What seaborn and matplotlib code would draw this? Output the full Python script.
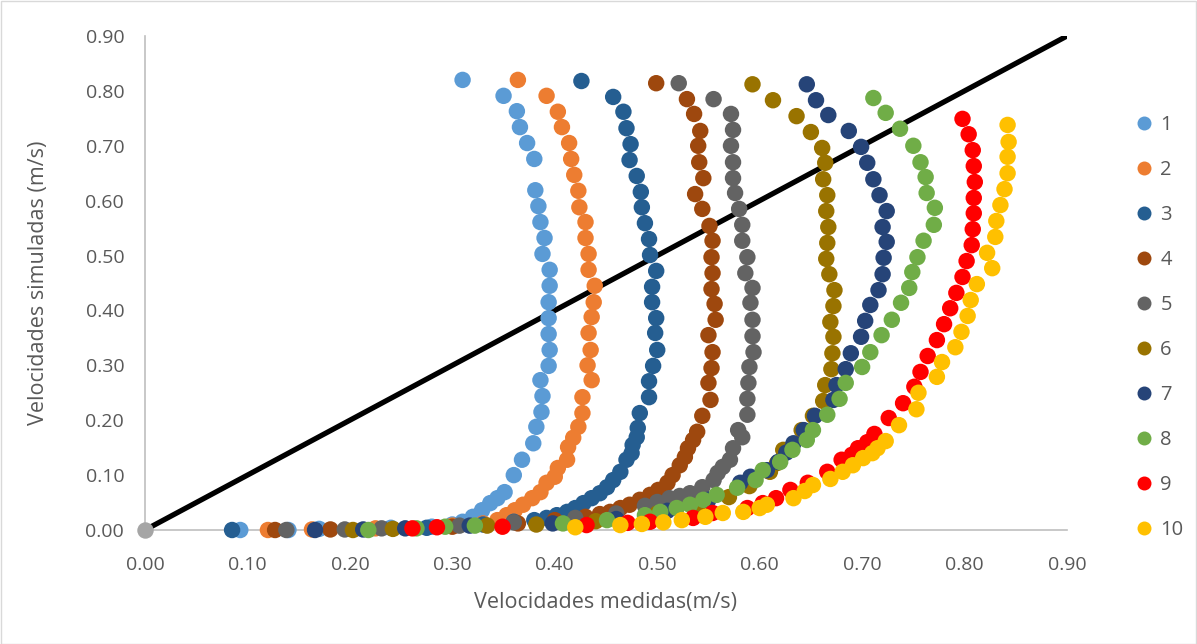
import matplotlib
matplotlib.use("Agg")
import numpy as np
import pandas as pd
import matplotlib.pyplot as plt
from matplotlib.patches import Rectangle
import seaborn as sns

# ---- data: measured (x) vs simulated (y) velocities, m/s ----
series_names = ["1", "2", "3", "4", "5", "6", "7", "8", "9", "10"]

s1_x = [0.093, 0.140, 0.170, 0.240, 0.280, 0.300, 0.310, 0.320, 0.329, 0.337,
        0.344, 0.351, 0.360, 0.368, 0.379, 0.382, 0.387, 0.388, 0.386, 0.394,
        0.395, 0.394, 0.394, 0.394, 0.395, 0.395, 0.388, 0.390, 0.386, 0.384,
        0.381, 0.380, 0.373, 0.366, 0.363, 0.350, 0.310]
s1_y = [0.000, 0.000, 0.002, 0.004, 0.006, 0.010, 0.015, 0.024, 0.036, 0.049,
        0.058, 0.069, 0.100, 0.128, 0.158, 0.188, 0.215, 0.244, 0.273, 0.299,
        0.328, 0.357, 0.386, 0.415, 0.445, 0.474, 0.503, 0.532, 0.561, 0.590,
        0.619, 0.676, 0.705, 0.734, 0.763, 0.791, 0.820]

s2_x = [0.120, 0.163, 0.225, 0.300, 0.330, 0.344, 0.353, 0.361, 0.369, 0.378,
        0.386, 0.392, 0.400, 0.403, 0.412, 0.413, 0.418, 0.423, 0.427, 0.427,
        0.436, 0.432, 0.435, 0.433, 0.436, 0.438, 0.439, 0.433, 0.433, 0.430,
        0.430, 0.424, 0.423, 0.419, 0.416, 0.414, 0.407, 0.403, 0.392, 0.364]
s2_y = [0.000, 0.001, 0.003, 0.008, 0.012, 0.018, 0.027, 0.036, 0.046, 0.058,
        0.069, 0.086, 0.097, 0.113, 0.128, 0.151, 0.168, 0.188, 0.213, 0.242,
        0.273, 0.300, 0.328, 0.359, 0.388, 0.415, 0.445, 0.474, 0.503, 0.532,
        0.561, 0.588, 0.618, 0.647, 0.676, 0.705, 0.734, 0.762, 0.791, 0.820]

s3_x = [0.085, 0.275, 0.330, 0.360, 0.380, 0.392, 0.402, 0.412, 0.420, 0.428,
        0.436, 0.444, 0.451, 0.457, 0.464, 0.470, 0.475, 0.476, 0.480, 0.481,
        0.483, 0.492, 0.492, 0.496, 0.500, 0.498, 0.499, 0.495, 0.495, 0.499,
        0.493, 0.492, 0.488, 0.485, 0.484, 0.480, 0.473, 0.474, 0.470, 0.467,
        0.457, 0.426]
s3_y = [0.000, 0.004, 0.010, 0.015, 0.018, 0.022, 0.027, 0.033, 0.040, 0.049,
        0.058, 0.067, 0.078, 0.091, 0.106, 0.128, 0.140, 0.155, 0.169, 0.186,
        0.213, 0.242, 0.271, 0.299, 0.328, 0.359, 0.386, 0.415, 0.443, 0.472,
        0.501, 0.530, 0.559, 0.588, 0.616, 0.645, 0.674, 0.703, 0.732, 0.762,
        0.789, 0.818]

s4_x = [0.127, 0.181, 0.300, 0.364, 0.400, 0.430, 0.444, 0.454, 0.464, 0.473,
        0.483, 0.493, 0.501, 0.510, 0.515, 0.522, 0.527, 0.530, 0.535, 0.539,
        0.544, 0.552, 0.550, 0.553, 0.554, 0.550, 0.557, 0.556, 0.553, 0.554,
        0.553, 0.554, 0.551, 0.544, 0.537, 0.545, 0.541, 0.540, 0.542, 0.536,
        0.529, 0.499]
s4_y = [0.000, 0.001, 0.006, 0.012, 0.018, 0.024, 0.029, 0.033, 0.040, 0.046,
        0.055, 0.064, 0.073, 0.086, 0.100, 0.118, 0.133, 0.149, 0.164, 0.179,
        0.208, 0.237, 0.268, 0.295, 0.324, 0.355, 0.383, 0.412, 0.439, 0.468,
        0.497, 0.527, 0.554, 0.585, 0.612, 0.641, 0.670, 0.700, 0.727, 0.758,
        0.785, 0.814]

s5_x = [0.138, 0.195, 0.231, 0.307, 0.360, 0.420, 0.460, 0.488, 0.500, 0.512,
        0.522, 0.532, 0.544, 0.555, 0.559, 0.564, 0.571, 0.574, 0.583, 0.579,
        0.588, 0.588, 0.589, 0.590, 0.594, 0.593, 0.593, 0.591, 0.593, 0.586,
        0.588, 0.583, 0.583, 0.580, 0.576, 0.574, 0.574, 0.572, 0.574, 0.572,
        0.555, 0.521]
s5_y = [0.000, 0.001, 0.003, 0.008, 0.014, 0.022, 0.030, 0.044, 0.051, 0.058,
        0.062, 0.067, 0.078, 0.091, 0.104, 0.115, 0.128, 0.149, 0.169, 0.182,
        0.210, 0.239, 0.268, 0.297, 0.324, 0.353, 0.383, 0.414, 0.441, 0.468,
        0.497, 0.527, 0.556, 0.585, 0.614, 0.641, 0.670, 0.700, 0.729, 0.758,
        0.785, 0.814]

s6_x = [0.203, 0.242, 0.334, 0.382, 0.440, 0.500, 0.540, 0.570, 0.590, 0.610,
        0.617, 0.623, 0.641, 0.652, 0.662, 0.664, 0.670, 0.671, 0.672, 0.669,
        0.672, 0.673, 0.668, 0.665, 0.666, 0.667, 0.665, 0.666, 0.662, 0.664,
        0.661, 0.650, 0.636, 0.613, 0.593]
s6_y = [0.000, 0.002, 0.008, 0.010, 0.016, 0.030, 0.045, 0.060, 0.080, 0.106,
        0.122, 0.146, 0.182, 0.208, 0.235, 0.264, 0.293, 0.322, 0.352, 0.379,
        0.408, 0.437, 0.466, 0.494, 0.523, 0.552, 0.581, 0.610, 0.639, 0.669,
        0.696, 0.725, 0.754, 0.783, 0.812]

s7_x = [0.166, 0.213, 0.254, 0.317, 0.398, 0.460, 0.510, 0.550, 0.581, 0.591,
        0.607, 0.618, 0.626, 0.633, 0.643, 0.654, 0.672, 0.675, 0.684, 0.689,
        0.699, 0.703, 0.708, 0.716, 0.720, 0.721, 0.724, 0.720, 0.724, 0.717,
        0.711, 0.705, 0.699, 0.687, 0.667, 0.655, 0.646]
s7_y = [0.000, 0.001, 0.003, 0.008, 0.012, 0.020, 0.035, 0.055, 0.086, 0.097,
        0.109, 0.124, 0.141, 0.158, 0.182, 0.208, 0.237, 0.264, 0.293, 0.322,
        0.352, 0.381, 0.410, 0.437, 0.466, 0.496, 0.525, 0.552, 0.581, 0.610,
        0.639, 0.669, 0.698, 0.727, 0.756, 0.783, 0.812]

s8_x = [0.218, 0.265, 0.293, 0.322, 0.408, 0.451, 0.488, 0.503, 0.519, 0.532,
        0.545, 0.558, 0.578, 0.596, 0.603, 0.620, 0.632, 0.646, 0.652, 0.666,
        0.678, 0.684, 0.700, 0.708, 0.719, 0.729, 0.738, 0.746, 0.749, 0.754,
        0.760, 0.770, 0.771, 0.763, 0.762, 0.757, 0.750, 0.737, 0.723, 0.711]
s8_y = [0.000, 0.003, 0.006, 0.008, 0.012, 0.018, 0.027, 0.033, 0.040, 0.046,
        0.055, 0.064, 0.077, 0.091, 0.109, 0.124, 0.146, 0.164, 0.182, 0.210,
        0.239, 0.268, 0.297, 0.324, 0.355, 0.383, 0.414, 0.441, 0.470, 0.497,
        0.527, 0.556, 0.587, 0.614, 0.643, 0.670, 0.700, 0.731, 0.760, 0.787]

s9_x = [0.261, 0.285, 0.349, 0.431, 0.471, 0.493, 0.535, 0.554, 0.588, 0.603,
        0.616, 0.630, 0.647, 0.666, 0.680, 0.690, 0.696, 0.705, 0.712, 0.726,
        0.740, 0.751, 0.757, 0.764, 0.773, 0.780, 0.786, 0.792, 0.798, 0.802,
        0.807, 0.808, 0.809, 0.809, 0.810, 0.809, 0.808, 0.804, 0.798]
s9_y = [0.003, 0.005, 0.006, 0.009, 0.013, 0.015, 0.022, 0.031, 0.040, 0.049,
        0.058, 0.073, 0.086, 0.106, 0.128, 0.137, 0.149, 0.160, 0.175, 0.204,
        0.231, 0.261, 0.288, 0.317, 0.346, 0.375, 0.404, 0.432, 0.461, 0.490,
        0.519, 0.548, 0.577, 0.605, 0.634, 0.663, 0.692, 0.721, 0.749]

s10_x = [0.420, 0.464, 0.485, 0.506, 0.524, 0.547, 0.564, 0.584, 0.600, 0.607,
         0.633, 0.644, 0.652, 0.669, 0.681, 0.691, 0.701, 0.710, 0.715, 0.723,
         0.736, 0.753, 0.755, 0.773, 0.778, 0.791, 0.797, 0.803, 0.806, 0.812,
         0.827, 0.822, 0.830, 0.831, 0.835, 0.839, 0.842, 0.842, 0.843, 0.842]
s10_y = [0.005, 0.009, 0.011, 0.014, 0.018, 0.024, 0.031, 0.033, 0.040, 0.046,
         0.058, 0.071, 0.082, 0.093, 0.106, 0.118, 0.131, 0.140, 0.149, 0.162,
         0.191, 0.220, 0.250, 0.279, 0.306, 0.333, 0.361, 0.390, 0.419, 0.448,
         0.477, 0.505, 0.534, 0.563, 0.592, 0.621, 0.650, 0.680, 0.707, 0.738]

# 1:1 reference line and its origin marker
ref_x = [0.0, 0.9]
ref_y = [0.0, 0.9]
origin_x = [0.0]
origin_y = [0.0]

tick_values = [0.0, 0.1, 0.2, 0.3, 0.4, 0.5, 0.6, 0.7, 0.8, 0.9]
tick_labels = ["0.00", "0.10", "0.20", "0.30", "0.40",
               "0.50", "0.60", "0.70", "0.80", "0.90"]

x_label = "Velocidades medidas(m/s)"
y_label = "Velocidades simuladas (m/s)"

palette = ["#5B9BD5", "#ED7D31", "#255E91", "#9E480E", "#636363",
           "#997300", "#264478", "#70AD47", "#FF0000", "#FFC000"]

all_x = [s1_x, s2_x, s3_x, s4_x, s5_x, s6_x, s7_x, s8_x, s9_x, s10_x]
all_y = [s1_y, s2_y, s3_y, s4_y, s5_y, s6_y, s7_y, s8_y, s9_y, s10_y]

# ---- style ----
sns.set_style("white")
plt.rcParams["font.family"] = ["Open Sans", "DejaVu Sans"]
text_color = "#595959"

df = pd.concat(
    [pd.DataFrame({"medida": xs, "simulada": ys, "serie": name})
     for name, xs, ys in zip(series_names, all_x, all_y)],
    ignore_index=True,
)
line_df = pd.DataFrame({"medida": ref_x, "simulada": ref_y})
origin_df = pd.DataFrame({"medida": origin_x, "simulada": origin_y})

W, H = 1197, 644
fig = plt.figure(figsize=(W / 100, H / 100), dpi=100)
ax = fig.add_axes([145 / W, (H - 530) / H, 922 / W, 494 / H])

sns.lineplot(data=line_df, x="medida", y="simulada", color="black",
             linewidth=3.8, ax=ax, zorder=1)
sns.scatterplot(data=origin_df, x="medida", y="simulada", color="#A5A5A5",
                s=140, linewidth=0, ax=ax, zorder=2, clip_on=False)
sns.scatterplot(data=df, x="medida", y="simulada", hue="serie",
                hue_order=series_names, palette=palette, s=140,
                linewidth=0, ax=ax, zorder=3, clip_on=False)

ax.set_xlim(0, 0.9)
ax.set_ylim(0, 0.9)
ax.set_xticks(tick_values)
ax.set_xticklabels(tick_labels)
ax.set_yticks(tick_values)
ax.set_yticklabels(tick_labels)
ax.tick_params(length=0, labelsize=14, labelcolor=text_color)
ax.tick_params(axis="x", pad=18.5)
ax.tick_params(axis="y", pad=15)

for side in ("top", "right"):
    ax.spines[side].set_visible(False)
for side in ("left", "bottom"):
    ax.spines[side].set_color("#BFBFBF")
    ax.spines[side].set_linewidth(1.2)
    ax.spines[side].set_zorder(0)

ax.set_xlabel(x_label, fontsize=15.5, color=text_color, labelpad=13)
ax.set_ylabel(y_label, fontsize=15.5, color=text_color, labelpad=26)

# legend on the right
old = ax.get_legend()
handles = old.legend_handles
labels = [t.get_text() for t in old.get_texts()]
old.remove()
fig.legend(handles, labels, loc="center left",
           bbox_to_anchor=(1124 / W, (H - 327.5) / H),
           bbox_transform=fig.transFigure, frameon=False,
           fontsize=14.5, labelcolor=text_color, markerscale=0.85,
           handlelength=1.0, handletextpad=0.3, labelspacing=1.24,
           borderpad=0.0)

# chart area border
fig.add_artist(Rectangle((0.5 / W, 0.5 / H), (W - 1.5) / W, (H - 1.5) / H,
                         transform=fig.transFigure, fill=False,
                         edgecolor="#D9D9D9", linewidth=1.0))

fig.savefig("out.png", dpi=100)
